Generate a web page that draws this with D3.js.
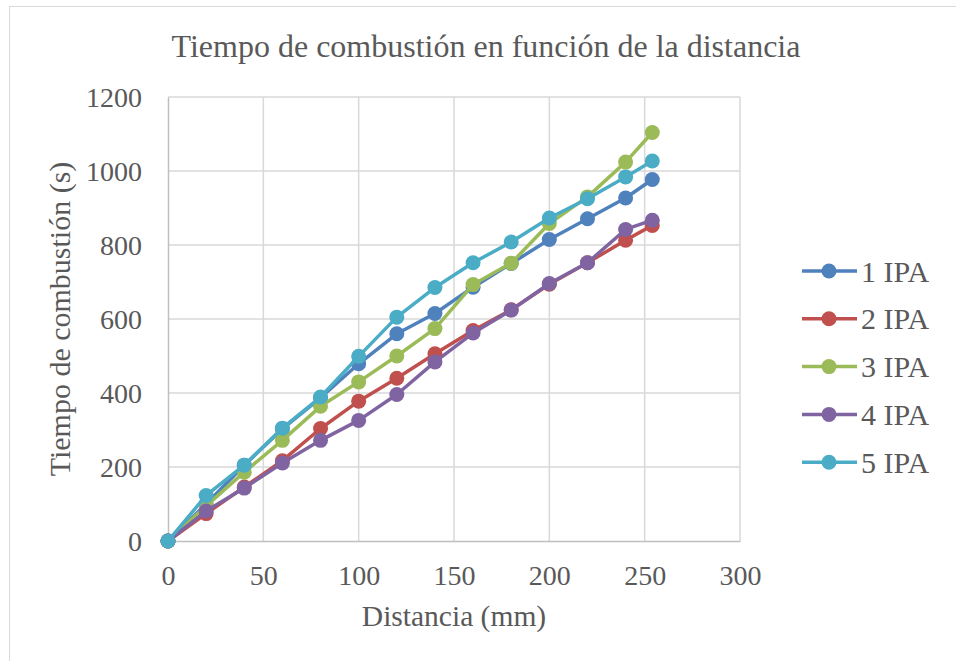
<!DOCTYPE html>
<html><head><meta charset="utf-8">
<script src="https://cdn.jsdelivr.net/npm/d3@7"></script>
<style>body{margin:0;background:#fff}svg{display:block}</style>
</head><body>
<script>
const distances = [0,20,40,60,80,100,120,140,160,180,200,220,240,254];
const seriesNames = ["1 IPA","2 IPA","3 IPA","4 IPA","5 IPA"];
const ipa1 = [0,100,205,303,387,479,560,615,686,750,815,871,927,977];
const ipa2 = [0,74,146,217,304,378,440,506,569,625,694,752,813,853];
const ipa3 = [0,95,186,272,364,430,500,574,693,751,858,930,1024,1104];
const ipa4 = [0,81,143,211,272,326,396,484,562,624,696,752,842,867];
const ipa5 = [0,123,205,305,389,499,605,685,752,808,873,925,984,1027];
const colors = ["#4f81bd","#c0504d","#9bbb59","#8064a2","#4bacc6"];
const xTicks = [0,50,100,150,200,250,300];
const yTicks = [0,200,400,600,800,1000,1200];
const title = "Tiempo de combustión en función de la distancia";
const xTitle = "Distancia (mm)";
const yTitle = "Tiempo de combustión (s)";

const W=956,H=661;
const svg=d3.select("body").append("svg").attr("width",W).attr("height",H);
const font="'Liberation Serif','Times New Roman',serif";
svg.append("rect").attr("x",9.5).attr("y",6.5).attr("width",W+20).attr("height",H+20)
  .attr("fill","#fff").attr("stroke","#d9d9d9").attr("stroke-width",1);

const x=d3.scaleLinear().domain([0,300]).range([168,740]);
const y=d3.scaleLinear().domain([0,1200]).range([541,97]);

// gridlines
svg.append("g").selectAll("line").data(yTicks.filter(d=>d>0)).join("line")
  .attr("x1",x(0)).attr("x2",x(300)).attr("y1",d=>y(d)).attr("y2",d=>y(d))
  .attr("stroke","#d9d9d9").attr("stroke-width",1.5);
svg.append("g").selectAll("line").data(xTicks.filter(d=>d>0)).join("line")
  .attr("y1",y(0)).attr("y2",y(1200)).attr("x1",d=>x(d)).attr("x2",d=>x(d))
  .attr("stroke","#d9d9d9").attr("stroke-width",1.5);
// axes
const fmt=d3.format("d");
const xAxis=svg.append("g").attr("transform",`translate(0,${y(0)})`)
  .call(d3.axisBottom(x).tickValues(xTicks).tickFormat(fmt).tickSize(0).tickPadding(25));
const yAxis=svg.append("g").attr("transform",`translate(${x(0)},0)`)
  .call(d3.axisLeft(y).tickValues(yTicks).tickFormat(fmt).tickSize(0).tickPadding(26));
[xAxis,yAxis].forEach(a=>{
  a.select(".domain").attr("stroke","#bfbfbf").attr("stroke-width",1.5);
  a.selectAll("text").attr("font-family",font).attr("font-size",28).attr("fill","#595959");
});
xAxis.selectAll("text").attr("dy","0.68em");
yAxis.selectAll("text").attr("dy","0.34em");

const data=[ipa1,ipa2,ipa3,ipa4,ipa5];
const line=d3.line().x((d,i)=>x(distances[i])).y(d=>y(d));
data.forEach((s,k)=>{
  const g=svg.append("g");
  g.append("path").attr("d",line(s)).attr("fill","none").attr("stroke",colors[k])
    .attr("stroke-width",3.5).attr("stroke-linejoin","round");
  g.selectAll("circle").data(s).join("circle")
    .attr("cx",(d,i)=>x(distances[i])).attr("cy",d=>y(d)).attr("r",7.5).attr("fill",colors[k]);
});

// titles
svg.append("text").attr("x",486).attr("y",57).attr("text-anchor","middle")
  .attr("font-family",font).attr("font-size",32).attr("fill","#595959").text(title);
svg.append("text").attr("x",454).attr("y",626).attr("text-anchor","middle")
  .attr("font-family",font).attr("font-size",29.5).attr("fill","#595959").text(xTitle);
svg.append("text").attr("transform",`translate(70,319) rotate(-90)`).attr("text-anchor","middle")
  .attr("font-family",font).attr("font-size",30).attr("fill","#595959").text(yTitle);

// legend
const leg=svg.append("g");
seriesNames.forEach((n,k)=>{
  const ly=271+k*47.8;
  leg.append("line").attr("x1",802).attr("x2",857).attr("y1",ly).attr("y2",ly)
    .attr("stroke",colors[k]).attr("stroke-width",3.5);
  leg.append("circle").attr("cx",829).attr("cy",ly).attr("r",7.5).attr("fill",colors[k]);
  leg.append("text").attr("x",861).attr("y",ly).attr("dy","0.35em")
    .attr("font-family",font).attr("font-size",30).attr("fill","#595959").text(n);
});
</script>
</body></html>
